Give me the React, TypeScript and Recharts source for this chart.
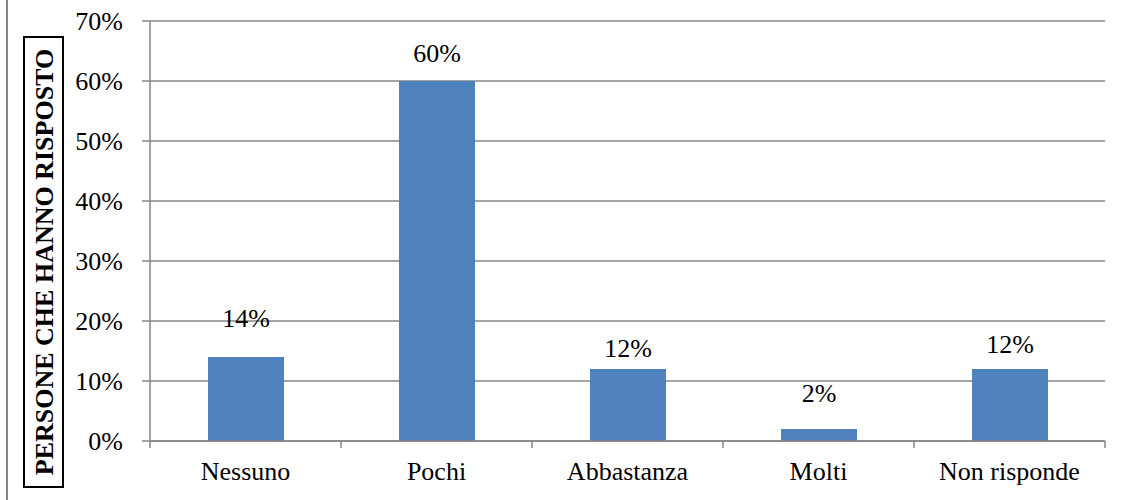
import React from 'react';
import { BarChart, Bar, XAxis, YAxis, CartesianGrid, LabelList, Label } from 'recharts';

// Survey answers (percent of respondents)
const categories = ['Nessuno', 'Pochi', 'Abbastanza', 'Molti', 'Non risponde'];
const percentages = [14, 60, 12, 2, 12];
const yTicks = [0, 10, 20, 30, 40, 50, 60, 70];
const axisTitle = 'PERSONE CHE HANNO RISPOSTO';

// Excel-style manual label placement (gap above bar top, px)
const labelGaps = [30, 19, 12, 27, 16];

const CHART_W = 1123;
const CHART_H = 500;
const Y_AXIS_W = 150;
const RIGHT = 18;
const BAND = (CHART_W - Y_AXIS_W - RIGHT) / categories.length;
const TICK_SIZE = 7;
const TICK_MARGIN = 14;
const GRAY = '#868686';
const FONT = 'Liberation Serif';
const textStyle = { fontFamily: FONT, fontSize: 26 };

const data = categories.map((name, i) => ({ name, value: percentages[i] }));

const CategoryTick = (props: any) => {
  const { x, y, payload, index } = props;
  const axisY = y - TICK_SIZE - TICK_MARGIN;
  const last = index === categories.length - 1;
  return (
    <g>
      <line x1={x - BAND / 2} x2={x - BAND / 2} y1={axisY} y2={axisY + TICK_SIZE} stroke={GRAY} strokeWidth={1.5} />
      {last && (
        <line x1={x + BAND / 2} x2={x + BAND / 2} y1={axisY} y2={axisY + TICK_SIZE} stroke={GRAY} strokeWidth={1.5} />
      )}
      <text x={x} y={y} dy="0.71em" textAnchor="middle" fill="#000" style={textStyle}>
        {payload.value}
      </text>
    </g>
  );
};

const ValueLabel = (props: any) => {
  const { x, y, width, value, index } = props;
  return (
    <text x={x + width / 2} y={y - labelGaps[index]} textAnchor="middle" fill="#000" style={textStyle}>
      {`${value}%`}
    </text>
  );
};

const YTick = (props: any) => {
  const { x, y, payload } = props;
  return (
    <text x={x} y={y} dy="0.355em" textAnchor="end" fill="#000" style={textStyle}>
      {`${payload.value}%`}
    </text>
  );
};

const AxisTitle = () => (
  <g>
    <rect x={24} y={37} width={39} height={450} fill="#fff" stroke="#000" strokeWidth={2} />
    <text
      x={44}
      y={262}
      transform="rotate(-90 44 262)"
      textAnchor="middle"
      dominantBaseline="central"
      fill="#000"
      style={{ ...textStyle, fontWeight: 'bold' }}
    >
      {axisTitle}
    </text>
  </g>
);

const App: React.FC = () => {
  return (
    <div style={{ position: 'relative', width: CHART_W, height: CHART_H, background: '#fff' }}>
      <style>{`body{margin:0}`}</style>
      <div style={{ position: 'absolute', left: 6, top: 0, width: 1.5, height: CHART_H, background: GRAY }} />
      <BarChart
        width={CHART_W}
        height={CHART_H}
        data={data}
        margin={{ top: 21, right: RIGHT, left: 0, bottom: 0 }}
        barCategoryGap={0}
      >
        <CartesianGrid vertical={false} stroke={GRAY} strokeWidth={1.5} />
        <XAxis
          dataKey="name"
          height={59}
          axisLine={{ stroke: GRAY, strokeWidth: 1.5 }}
          tickLine={false}
          tickSize={TICK_SIZE}
          tickMargin={TICK_MARGIN}
          tick={<CategoryTick />}
          interval={0}
        />
        <YAxis
          width={Y_AXIS_W}
          domain={[0, 70]}
          ticks={yTicks}
          axisLine={{ stroke: GRAY, strokeWidth: 1.5 }}
          tickLine={{ stroke: GRAY, strokeWidth: 1.5 }}
          tickSize={8}
          tickMargin={19}
          tick={<YTick />}
        >
          <Label content={<AxisTitle />} />
        </YAxis>
        <Bar dataKey="value" fill="#4F81BD" barSize={76} isAnimationActive={false}>
          <LabelList dataKey="value" content={<ValueLabel />} />
        </Bar>
      </BarChart>
    </div>
  );
};

export default App;
